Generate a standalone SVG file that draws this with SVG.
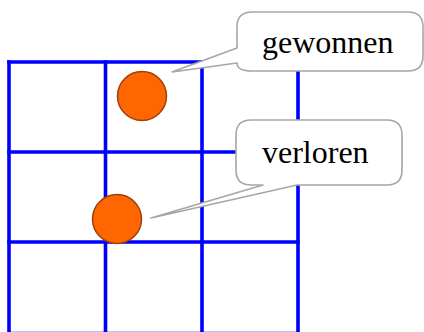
<svg xmlns="http://www.w3.org/2000/svg" width="424" height="332" viewBox="0 0 424 332">
<style>
.grid{stroke:#0000FF;stroke-width:3.6;fill:none;stroke-linecap:square}
.stone{fill:#FF6600;stroke:#A0400A;stroke-width:1.5}
.bubble{fill:#FFFFFF;stroke:#A6A6A6;stroke-width:1.6;stroke-linejoin:round}
.lbl{font-family:"Liberation Serif","Times New Roman",serif;font-size:32px;fill:#000000}
</style>
<rect width="424" height="332" fill="#FFFFFF"/>
<g id="grid" class="grid">
<path d="M9 62 H298 M9 152 H298 M9 242 H298 M9 333.5 H298"/>
<path d="M9 62 V333 M105.5 62 V333 M202 62 V333 M298 62 V333"/>
</g>
<g id="stone-won"><circle class="stone" cx="142" cy="96" r="24.5"/></g>
<g id="stone-lost"><circle class="stone" cx="117" cy="219" r="24.5"/></g>
<g id="callout-gewonnen">
<path class="bubble" d="M252 12 H408 Q423 12 423 27 V56 Q423 71 408 71 H252 Q237 71 237 63 L172 72 L237 48 V27 Q237 12 252 12 Z"/>
<text class="lbl" x="262" y="53">gewonnen</text>
</g>
<g id="callout-verloren">
<path class="bubble" d="M251 120 H387 Q402 120 402 135 V170 Q402 185 387 185 H297 L151 218 L263 185 H251 Q236 185 236 170 V135 Q236 120 251 120 Z"/>
<text class="lbl" x="262" y="163">verloren</text>
</g>
</svg>
